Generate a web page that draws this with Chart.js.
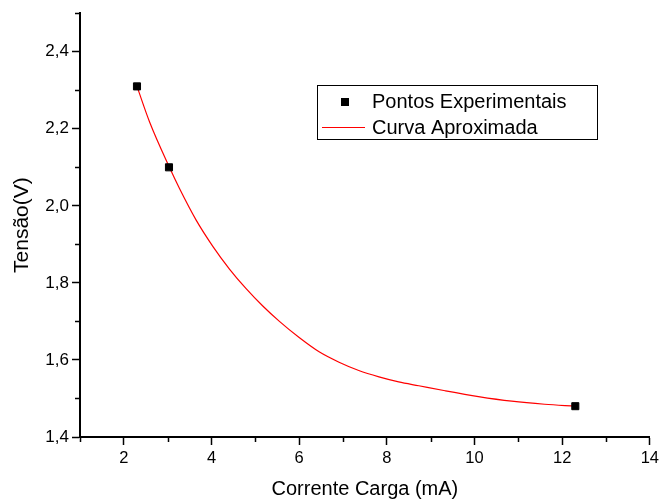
<!DOCTYPE html>
<html>
<head>
<meta charset="utf-8">
<script src="https://cdn.jsdelivr.net/npm/chart.js@4.4.0/dist/chart.umd.min.js"></script>
<style>
  html, body { margin: 0; padding: 0; background: #ffffff; }
  #wrap { width: 663px; height: 502px; position: relative; }
</style>
</head>
<body>
<div id="wrap"><canvas id="c" width="663" height="502"></canvas></div>
<script>
// ---- data ----
const seriesNames = ['Pontos Experimentais', 'Curva Aproximada'];
const xTitle = 'Corrente Carga (mA)';
const yTitle = 'Tensão(V)';

const pointsX = [2.3, 3.03, 12.3];
const pointsY = [2.31, 2.10, 1.48];

const curveX = [2.3, 2.59, 3.04, 3.27, 3.65, 4.03, 4.41, 4.79, 5.17, 5.55, 6.0, 6.455, 6.91, 7.36, 7.82, 8.27, 8.73, 9.33, 10.09, 10.85, 11.6, 12.3];
const curveY = [2.31, 2.217, 2.10, 2.045, 1.963, 1.895, 1.836, 1.785, 1.740, 1.700, 1.658, 1.621, 1.594, 1.5725, 1.556, 1.543, 1.533, 1.520, 1.505, 1.493, 1.485, 1.480];

const xMajorTicks = [2, 4, 6, 8, 10, 12, 14];
const xMinorTicks = [1, 3, 5, 7, 9, 11, 13];
const yMajorTicks = [1.4, 1.6, 1.8, 2.0, 2.2, 2.4];
const yMinorTicks = [1.5, 1.7, 1.9, 2.1, 2.3, 2.5];

const FONT = '"Liberation Sans", Arial, sans-serif';

const minorTicksPlugin = {
  id: 'minorTicks',
  afterDraw(chart) {
    const ctx = chart.ctx;
    const xs = chart.scales.x, ys = chart.scales.y;
    const area = chart.chartArea;
    ctx.save();
    ctx.strokeStyle = '#000';
    ctx.lineWidth = 1.5;
    ctx.beginPath();
    xMinorTicks.forEach(v => {
      const px = Math.round(xs.getPixelForValue(v)) + 0.5;
      ctx.moveTo(px, area.bottom);
      ctx.lineTo(px, area.bottom + 5);
    });
    yMinorTicks.forEach(v => {
      const py = Math.round(ys.getPixelForValue(v)) + 0.5;
      ctx.moveTo(area.left - 5, py);
      ctx.lineTo(area.left, py);
    });
    ctx.stroke();
    ctx.restore();
  }
};

const legendBoxPlugin = {
  id: 'legendBox',
  afterDraw(chart) {
    const ctx = chart.ctx;
    ctx.save();
    const bx = 317, by = 85, bw = 280, bh = 54;
    ctx.strokeStyle = '#000';
    ctx.lineWidth = 1;
    ctx.strokeRect(bx + 0.5, by + 0.5, bw, bh);
    // marker
    ctx.fillStyle = '#000';
    ctx.fillRect(341, 98, 8, 8);
    // line sample
    ctx.strokeStyle = '#ff0000';
    ctx.lineWidth = 1;
    ctx.beginPath();
    ctx.moveTo(322, 127.5);
    ctx.lineTo(365, 127.5);
    ctx.stroke();
    ctx.fillStyle = '#000';
    ctx.font = '20px ' + FONT;
    ctx.textBaseline = 'middle';
    ctx.textAlign = 'left';
    ctx.fillText(seriesNames[0], 372, 102);
    ctx.fillText(seriesNames[1], 372, 128);
    ctx.restore();
  }
};

const fmt = v => Number(v).toFixed(1).replace('.', ',');

new Chart(document.getElementById('c'), {
  type: 'scatter',
  data: {
    datasets: [
      {
        label: seriesNames[0],
        data: pointsX.map((x, i) => ({ x: x, y: pointsY[i] })),
        pointStyle: 'rect',
        pointRadius: 5,
        pointBorderWidth: 1,
        backgroundColor: '#000',
        borderColor: '#000',
        showLine: false
      },
      {
        label: seriesNames[1],
        data: curveX.map((x, i) => ({ x: x, y: curveY[i] })),
        showLine: true,
        borderColor: '#ff0000',
        borderWidth: 1.2,
        pointRadius: 0,
        cubicInterpolationMode: 'monotone',
        fill: false
      }
    ]
  },
  options: {
    responsive: false,
    animation: false,
    devicePixelRatio: 1,
    layout: { padding: { top: 10, right: 11, left: 0, bottom: 0 } },
    plugins: { legend: { display: false }, tooltip: { enabled: false } },
    scales: {
      x: {
        type: 'linear',
        min: 1, max: 14,
        afterBuildTicks: s => { s.ticks = xMajorTicks.map(v => ({ value: v })); },
        afterFit: s => { s.height = 65; },
        border: { display: true, color: '#000', width: 2 },
        grid: { drawOnChartArea: false, drawTicks: true, tickLength: 8, tickColor: '#000', tickWidth: 1.5 },
        ticks: { color: '#000', font: { family: FONT, size: 16.5 }, padding: 4, maxRotation: 0, callback: v => String(v) },
        title: { display: true, text: xTitle, color: '#000', font: { family: FONT, size: 20 }, padding: { top: 0, bottom: 1 } }
      },
      y: {
        type: 'linear',
        min: 1.4, max: 2.5,
        afterBuildTicks: s => { s.ticks = yMajorTicks.map(v => ({ value: v })); },
        afterFit: s => { s.width = 80; },
        border: { display: true, color: '#000', width: 2 },
        grid: { drawOnChartArea: false, drawTicks: true, tickLength: 8, tickColor: '#000', tickWidth: 1.5 },
        ticks: { color: '#000', font: { family: FONT, size: 17 }, padding: 3, callback: v => fmt(v) },
        title: { display: true, text: yTitle, color: '#000', font: { family: FONT, size: 21 }, padding: { top: 10, bottom: 0 } }
      }
    }
  },
  plugins: [minorTicksPlugin, legendBoxPlugin]
});
</script>
</body>
</html>
